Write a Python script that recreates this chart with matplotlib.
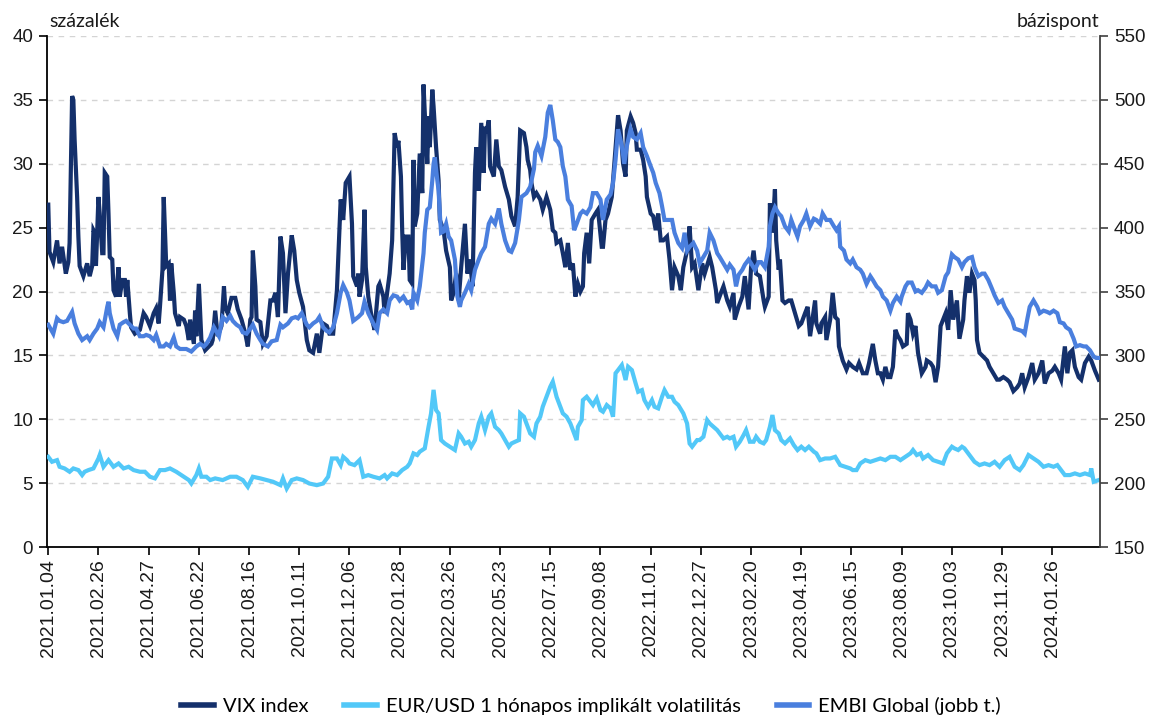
import matplotlib
matplotlib.use("Agg")
import matplotlib.pyplot as plt
from matplotlib.lines import Line2D

# ---------------- data ----------------
tick_labels = ["2021.01.04", "2021.02.26", "2021.04.27", "2021.06.22", "2021.08.16",
               "2021.10.11", "2021.12.06", "2022.01.28", "2022.03.26", "2022.05.23",
               "2022.07.15", "2022.09.08", "2022.11.01", "2022.12.27", "2023.02.20",
               "2023.04.19", "2023.06.15", "2023.08.09", "2023.10.03", "2023.11.29",
               "2024.01.26"]
tick_step = 40          # observations between labelled dates
n_obs = 838

vix = [(0,26.8),(1,23.1),(4,22.3),(7,24.0),(9,22.2),(11,23.5),(14,21.4),(16,22.3),(17,23.8),(19,35.3),(20,35.0),(21,31.9),(23,27.4),(24,24.3),(25,22.0),(28,21.2),(31,22.2),(33,21.2),(35,22.0),(36,24.8),(37,24.6),(38,22.0),(40,27.4),(41,26.1),(43,23.0),(44,23.0),(45,29.3),(47,29.0),(48,26.1),(49,22.7),(51,22.5),(52,20.1),(54,19.6),(56,21.9),(57,19.6),(59,20.9),(61,20.9),(62,19.6),(63,20.9),(65,18.3),(66,17.2),(69,16.7),(73,17.0),(76,18.3),(78,18.0),(81,17.3),(84,18.3),(86,18.7),(88,17.5),(89,18.8),(91,21.7),(92,27.4),(94,22.0),(96,22.2),(97,19.3),(98,22.2),(100,19.9),(101,18.3),(104,17.3),(105,18.0),(108,17.8),(110,17.3),(112,16.2),(113,17.8),(116,15.9),(117,18.5),(118,16.5),(120,20.6),(121,18.3),(122,16.2),(125,15.4),(128,15.7),(130,15.9),(131,16.2),(133,18.5),(135,16.5),(138,17.3),(140,20.4),(141,18.8),(143,18.3),(146,19.5),(149,19.5),(151,18.6),(154,17.8),(157,16.7),(159,15.7),(161,17.8),(162,18.0),(163,23.2),(165,20.4),(166,17.8),(169,17.6),(171,15.9),(174,16.5),(177,19.3),(179,19.3),(181,19.9),(183,18.0),(185,24.3),(187,23.0),(189,18.3),(191,21.4),(194,24.4),(196,23.2),(198,20.9),(200,19.9),(203,18.8),(206,16.2),(208,15.4),(211,15.2),(214,16.7),(216,15.2),(219,17.5),(222,17.3),(224,16.7),(227,16.7),(230,20.1),(233,27.2),(235,25.6),(237,28.5),(240,29.0),(242,25.3),(243,21.2),(246,20.4),(247,21.4),(248,19.6),(250,20.9),(252,26.4),(253,21.9),(255,19.6),(258,17.8),(260,17.0),(263,20.4),(264,20.6),(267,19.6),(268,18.3),(270,19.9),(272,21.4),(274,24.0),(276,32.4),(278,31.3),(279,31.8),(281,29.0),(282,24.8),(283,21.7),(285,24.3),(287,24.3),(288,20.9),(290,20.6),(291,30.3),(292,25.1),(294,26.1),(296,30.8),(298,27.7),(299,36.2),(300,34.0),(302,30.0),(303,33.7),(304,31.3),(306,35.8),(307,34.5),(309,31.3),(311,28.7),(312,25.6),(315,24.8),(317,23.2),(320,21.9),(321,19.3),(323,19.9),(325,21.4),(327,19.3),(329,21.9),(332,25.3),(334,21.4),(336,22.5),(338,20.4),(340,29.3),(341,31.3),(343,27.9),(345,33.2),(347,29.3),(348,32.9),(349,32.4),(351,33.4),(352,29.8),(355,29.0),(357,31.9),(359,29.8),(361,29.5),(364,28.2),(367,27.2),(369,25.9),(372,25.1),(374,27.4),(376,32.6),(379,32.4),(381,31.3),(382,30.3),(384,29.5),(385,28.5),(387,27.4),(389,27.7),(392,27.2),(394,26.4),(397,27.4),(400,26.4),(402,24.8),(404,24.6),(405,23.8),(408,24.0),(410,23.0),(412,21.9),(414,23.8),(416,21.7),(418,22.2),(420,19.6),(422,20.6),(424,20.0),(426,20.4),(427,23.0),(429,24.6),(431,22.2),(433,25.6),(436,26.1),(438,26.4),(441,23.5),(442,23.5),(444,25.6),(446,26.1),(449,27.4),(452,31.3),(454,33.8),(456,32.6),(458,30.0),(460,29.0),(461,32.6),(464,33.7),(466,33.2),(468,32.4),(469,31.1),(472,31.1),(474,30.3),(476,29.0),(477,27.4),(480,26.1),(482,25.9),(484,24.8),(486,26.1),(488,24.0),(490,24.0),(493,24.3),(495,22.5),(497,20.1),(499,21.9),(502,21.2),(504,20.1),(506,21.9),(509,23.2),(511,25.1),(513,21.9),(515,22.2),(518,20.1),(521,22.2),(523,21.4),(527,22.7),(529,21.9),(532,20.1),(533,19.1),(536,19.9),(538,20.4),(541,19.3),(543,18.8),(546,19.9),(547,17.8),(550,18.8),(553,19.6),(555,21.2),(558,18.6),(560,21.9),(562,23.2),(564,21.4),(567,21.2),(570,19.3),(571,18.8),(574,19.6),(575,26.9),(577,24.6),(579,28.0),(580,24.0),(582,21.7),(583,22.5),(585,19.3),(587,19.1),(590,19.3),(592,19.3),(595,18.3),(598,17.3),(600,17.5),(603,18.3),(605,18.8),(607,16.5),(610,18.6),(611,19.3),(612,17.5),(615,16.7),(616,17.5),(619,18.0),(620,16.2),(623,17.8),(625,19.9),(627,18.0),(629,17.8),(630,15.7),(633,14.6),(636,13.9),(638,14.4),(641,14.1),(644,13.9),(646,14.4),(649,13.6),(652,13.6),(654,14.4),(657,15.9),(659,14.6),(661,13.6),(663,13.6),(665,13.1),(667,14.1),(669,13.3),(671,13.3),(673,14.1),(675,17.0),(677,16.5),(679,16.2),(681,15.7),(684,15.9),(685,18.3),(687,17.8),(689,16.7),(691,17.3),(693,15.2),(696,13.6),(699,14.1),(700,14.6),(703,14.4),(705,14.1),(707,12.9),(709,14.1),(711,17.3),(713,17.8),(715,18.3),(717,17.0),(719,20.1),(721,17.8),(724,19.3),(726,16.3),(729,17.8),(730,19.3),(732,21.2),(734,19.9),(736,21.4),(738,20.9),(739,19.3),(740,16.2),(742,15.2),(745,14.9),(748,14.6),(750,14.1),(753,13.6),(756,13.1),(758,13.1),(761,13.3),(764,13.1),(766,12.9),(769,12.2),(772,12.5),(774,12.8),(776,13.6),(778,12.5),(781,13.3),(784,14.4),(786,13.1),(789,13.6),(792,14.6),(794,12.8),(797,13.6),(800,13.8),(802,14.1),(805,13.6),(807,13.1),(810,15.7),(812,13.6),(814,15.2),(816,15.4),(818,14.1),(821,13.3),(823,13.1),(826,14.4),(829,14.9),(831,14.6),(834,13.8),(837,13.1)]

eurusd = [(0,7.06),(3,6.67),(7,6.8),(9,6.28),(13,6.15),(17,5.89),(20,6.15),(24,6.02),(27,5.63),(29,5.89),(32,6.02),(36,6.15),(40,6.93),(41,7.2),(44,6.28),(48,6.8),(52,6.28),(56,6.54),(60,6.15),(64,6.28),(68,6.02),(73,5.89),(77,5.89),(81,5.5),(85,5.37),(89,6.02),(93,6.02),(97,6.15),(102,5.89),(108,5.5),(112,5.24),(114,4.97),(118,5.63),(120,6.15),(122,5.5),(126,5.5),(129,5.24),(133,5.37),(139,5.24),(145,5.5),(150,5.5),(155,5.24),(159,4.71),(163,5.5),(169,5.37),(174,5.24),(179,5.11),(185,4.84),(187,5.37),(190,4.58),(194,5.24),(198,5.37),(203,5.24),(208,4.97),(214,4.84),(219,4.97),(223,5.5),(226,6.93),(230,6.93),(233,6.41),(235,7.06),(238,6.8),(240,6.54),(244,6.41),(248,6.8),(251,5.5),(255,5.63),(259,5.5),(264,5.37),(268,5.63),(270,5.37),(274,5.76),(278,5.63),(282,6.02),(286,6.28),(288,6.54),(291,7.33),(294,7.2),(296,7.46),(300,7.72),(303,9.41),(305,10.46),(307,12.3),(309,10.72),(311,10.46),(313,8.37),(316,8.1),(320,7.85),(324,7.59),(327,8.89),(329,8.63),(332,8.1),(335,8.24),(337,7.85),(340,8.37),(343,9.67),(345,10.2),(348,9.15),(351,10.2),(353,10.46),(356,9.41),(359,9.15),(361,8.89),(364,8.37),(367,7.85),(369,8.1),(372,8.24),(375,8.37),(376,10.46),(379,10.2),(382,9.41),(384,8.89),(387,8.63),(389,9.67),(392,10.2),(394,10.98),(397,11.76),(400,12.55),(402,12.94),(405,11.76),(408,10.98),(410,10.46),(413,10.2),(416,9.67),(418,9.15),(421,8.37),(422,9.41),(425,9.93),(426,11.5),(429,11.76),(432,11.37),(434,11.11),(437,11.63),(440,10.72),(442,10.59),(445,11.11),(448,10.85),(450,10.2),(452,13.6),(454,13.85),(457,14.24),(460,13.07),(462,14.11),(465,13.85),(468,12.81),(470,12.15),(473,12.28),(475,11.5),(478,10.98),(481,11.5),(483,10.98),(486,10.85),(489,11.76),(491,12.28),(494,11.76),(497,11.76),(499,11.37),(502,11.11),(506,10.46),(509,9.67),(511,8.1),(513,7.85),(517,8.37),(519,8.37),(522,8.63),(525,9.93),(527,9.67),(530,9.41),(533,9.15),(535,8.89),(538,8.5),(541,8.63),(543,8.5),(546,8.63),(548,7.85),(551,8.24),(554,8.76),(556,9.15),(559,8.24),(562,8.24),(564,8.63),(567,8.24),(570,8.11),(572,8.37),(575,9.41),(577,10.33),(579,9.15),(582,8.89),(584,8.37),(587,8.11),(591,8.5),(594,7.98),(597,7.59),(600,7.85),(603,7.59),(606,7.85),(610,7.46),(612,7.33),(615,6.8),(619,6.93),(623,6.93),(627,7.06),(631,6.41),(635,6.28),(639,6.15),(641,6.02),(644,6.02),(647,6.54),(651,6.8),(655,6.67),(659,6.8),(663,6.93),(667,6.8),(671,7.06),(675,7.06),(679,6.8),(683,7.06),(687,7.33),(689,7.59),(692,7.2),(695,7.33),(697,6.93),(701,7.2),(705,6.8),(709,6.67),(713,6.54),(716,7.33),(720,7.85),(722,7.72),(725,7.59),(728,7.85),(730,7.72),(734,7.2),(738,6.67),(742,6.41),(746,6.54),(750,6.41),(754,6.67),(758,6.28),(762,6.8),(766,7.06),(770,6.28),(774,6.02),(777,6.41),(781,7.2),(785,6.93),(789,6.67),(793,6.28),(797,6.41),(801,6.28),(804,6.41),(806,6.15),(810,5.63),(814,5.63),(818,5.76),(822,5.63),(826,5.76),(830,5.63),(831,6.15),(833,5.11),(837,5.24)]

embi = [(0,324),(4,317),(7,329),(9,327),(12,326),(15,327),(19,334),(21,325),(24,317),(27,312),(31,315),(33,312),(36,317),(39,321),(41,326),(44,322),(47,338),(48,342),(49,333),(52,321),(55,315),(57,324),(60,326),(62,327),(65,324),(68,321),(70,321),(73,315),(76,315),(78,316),(81,315),(84,312),(86,316),(89,307),(92,307),(94,309),(97,307),(100,314),(102,307),(105,305),(110,305),(114,303),(118,307),(121,309),(124,307),(126,309),(129,314),(132,322),(136,315),(139,330),(142,327),(145,331),(147,327),(150,324),(153,322),(155,318),(158,317),(161,321),(163,324),(166,317),(169,312),(171,309),(175,307),(178,311),(182,312),(185,324),(187,322),(191,325),(194,329),(197,330),(199,329),(202,333),(206,324),(208,322),(211,325),(214,327),(216,330),(219,322),(222,319),(224,318),(227,322),(230,333),(233,349),(235,355),(238,349),(240,343),(243,327),(247,330),(250,333),(252,342),(255,333),(259,325),(262,320),(264,333),(267,336),(270,333),(272,343),(275,347),(278,346),(280,343),(283,346),(286,341),(288,342),(290,336),(291,349),(294,343),(296,354),(299,380),(300,396),(302,414),(304,416),(306,437),(307,450),(308,455),(310,437),(311,429),(312,411),(313,396),(315,397),(317,403),(319,393),(321,390),(322,385),(324,375),(326,346),(328,338),(329,343),(332,349),(335,356),(337,351),(340,367),(343,375),(345,380),(348,385),(351,403),(353,407),(356,403),(359,415),(361,403),(364,390),(367,382),(369,381),(372,388),(375,406),(377,424),(381,427),(384,432),(387,446),(388,459),(390,464),(393,456),(396,471),(398,490),(400,496),(402,484),(404,469),(406,467),(408,463),(410,448),(412,440),(414,422),(417,417),(419,398),(421,403),(424,411),(426,413),(429,411),(432,416),(434,427),(437,427),(440,422),(442,406),(445,422),(448,426),(450,435),(452,453),(454,477),(457,464),(459,450),(461,464),(464,477),(466,471),(469,469),(472,474),(474,463),(477,456),(480,448),(482,443),(484,435),(487,427),(489,417),(491,406),(494,406),(497,406),(499,396),(502,388),(505,384),(507,396),(509,382),(511,385),(514,388),(517,382),(519,372),(522,377),(525,382),(527,396),(530,390),(533,380),(535,377),(538,372),(541,367),(543,371),(546,367),(548,354),(550,363),(553,367),(555,371),(558,375),(560,372),(563,367),(566,373),(568,373),(571,369),(574,385),(575,401),(577,411),(579,416),(582,411),(584,409),(587,401),(590,397),(592,406),(595,398),(597,393),(599,401),(602,406),(604,411),(607,401),(610,407),(612,406),(615,403),(617,411),(620,406),(623,406),(626,401),(628,398),(630,401),(631,385),(634,382),(636,375),(639,372),(641,375),(644,369),(647,367),(649,364),(652,356),(655,362),(657,359),(660,354),(663,351),(665,346),(668,343),(671,335),(673,341),(676,346),(679,342),(680,346),(683,354),(685,357),(688,357),(691,350),(693,351),(696,349),(699,353),(701,357),(704,354),(707,354),(709,349),(712,351),(715,362),(717,365),(720,379),(722,377),(725,375),(728,369),(730,373),(733,376),(736,377),(738,369),(741,362),(744,364),(746,364),(749,359),(752,352),(754,347),(757,341),(760,343),(762,338),(765,333),(768,328),(770,321),(773,320),(776,319),(778,317),(780,328),(782,338),(785,343),(788,338),(790,333),(793,335),(796,334),(798,333),(801,335),(804,333),(806,326),(809,325),(811,322),(814,320),(817,313),(819,307),(822,308),(825,307),(827,307),(830,304),(833,299),(835,298),(838,298)]

labels = ["VIX index", "EUR/USD 1 hónapos implikált volatilitás", "EMBI Global (jobb t.)"]
colors = ["#14306B", "#52C8F8", "#4A7FDE"]

# ---------------- plot ----------------
W, H = 1152, 724
fig = plt.figure(figsize=(W / 100, H / 100), dpi=100)
ax = fig.add_axes([47 / W, 1 - 547 / H, (1100 - 47) / W, (547 - 36) / H])
ax2 = ax.twinx()

tick_font = "Liberation Sans"
lab_font = "Lato"
lw = 3.0

def xy(pairs):
    return [p[0] for p in pairs], [p[1] for p in pairs]

ax.plot(*xy(vix), color=colors[0], lw=lw, zorder=3, solid_joinstyle="miter")
ax.plot(*xy(eurusd), color=colors[1], lw=lw, zorder=3, solid_joinstyle="miter")
ax2.plot(*xy(embi), color=colors[2], lw=lw, zorder=3, solid_joinstyle="miter")

ax.set_xlim(-1, n_obs)
ax.set_ylim(0, 40)
ax2.set_ylim(150, 550)
ax.set_yticks(range(0, 41, 5))
ax2.set_yticks(range(150, 551, 50))

ticks = [i * tick_step for i in range(len(tick_labels))]
ax.set_xticks(ticks)
ax.set_xticklabels(tick_labels, rotation=90, fontsize=14, family=tick_font, color="#1a1a1a")

for a in (ax, ax2):
    a.spines["top"].set_visible(False)
    for lab in a.get_yticklabels():
        lab.set_family(tick_font)
        lab.set_fontsize(13.5)
        lab.set_color("#1a1a1a")
ax2.spines["left"].set_visible(False)
ax2.spines["bottom"].set_visible(False)
ax.spines["right"].set_visible(False)
for s in ("left", "bottom"):
    ax.spines[s].set_linewidth(1.3)
ax2.spines["right"].set_linewidth(1.3)
ax2.spines["right"].set_color("#404040")

ax.tick_params(axis="y", direction="out", length=6, width=1.2, pad=4)
ax.tick_params(axis="x", direction="out", length=6, width=1.2, pad=3)
ax2.tick_params(axis="y", direction="out", length=6, width=1.2, pad=4, color="#404040")

ax.yaxis.grid(True, color="#D4D4D4", linestyle=(0, (4, 4)), linewidth=1.0, zorder=0)
ax.set_axisbelow(True)

ax.text(0.002, 1.012, "százalék", transform=ax.transAxes, ha="left", va="bottom",
        fontsize=14, family=lab_font, color="#1a1a1a")
ax.text(0.999, 1.012, "bázispont", transform=ax.transAxes, ha="right", va="bottom",
        fontsize=14, family=lab_font, color="#1a1a1a")

handles = [Line2D([], [], color=c, lw=4) for c in colors]
fig.legend(handles, labels, loc="lower center", bbox_to_anchor=(0.513, -0.012), ncol=3,
           frameon=False, prop={"family": lab_font, "size": 14.5},
           handlelength=1.6, handletextpad=0.45, columnspacing=1.8)

fig.savefig("out.png", dpi=100)
